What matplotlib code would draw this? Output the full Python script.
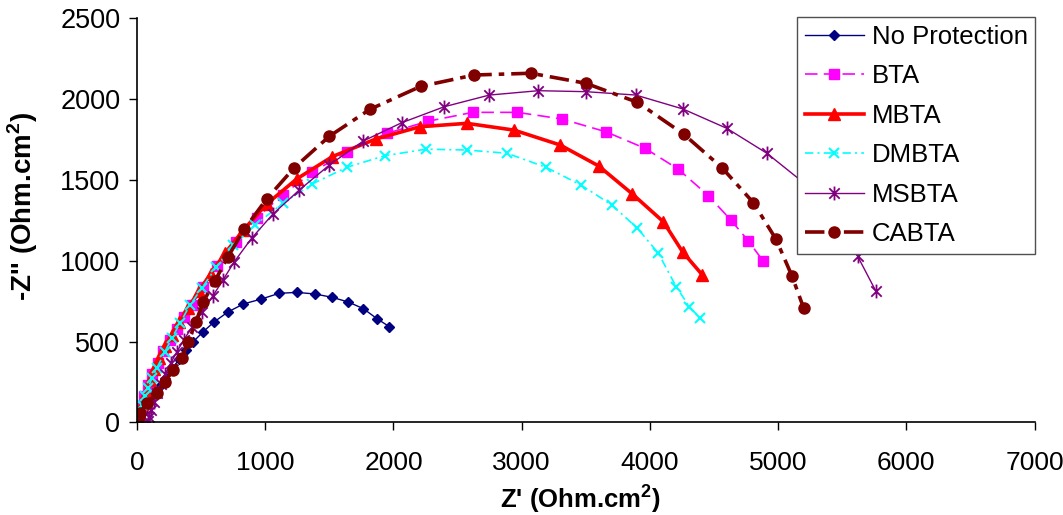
import numpy as np
import matplotlib
matplotlib.use("Agg")
import matplotlib.pyplot as plt
from matplotlib.path import Path

plt.rcParams['font.family'] = ['Liberation Sans', 'DejaVu Sans']
plt.rcParams['mathtext.fontset'] = 'custom'
plt.rcParams['mathtext.bf'] = 'Liberation Sans:bold'
plt.rcParams['mathtext.rm'] = 'Liberation Sans'
plt.rcParams['lines.scale_dashes'] = False

# Z' and -Z'' readings (Ohm.cm2) for each inhibitor
no_prot_x = [5, 20, 45, 80, 120, 165, 215, 270, 330, 385, 439, 517, 601, 710, 829, 970, 1108, 1246, 1389, 1524, 1649, 1766, 1875, 1968]
no_prot_y = [5, 30, 65, 110, 160, 215, 270, 330, 390, 445, 499, 561, 621, 683, 732, 763, 798, 804, 794, 773, 744, 703, 639, 592]

bta_x = [10, 30, 55, 85, 120, 160, 205, 255, 310, 365, 427, 517, 626, 770, 934, 1136, 1367, 1640, 1948, 2270, 2618, 2966, 3313, 3656, 3963, 4222, 4456, 4631, 4768, 4881]
bta_y = [30, 90, 160, 230, 300, 370, 440, 510, 580, 650, 726, 839, 969, 1114, 1266, 1407, 1547, 1675, 1788, 1863, 1918, 1918, 1877, 1798, 1695, 1566, 1402, 1252, 1122, 1000]

mbta_x = [15, 40, 70, 100, 135, 175, 220, 270, 330, 400, 480, 575, 690, 830, 1010, 1246, 1523, 1862, 2207, 2572, 2941, 3300, 3601, 3863, 4105, 4257, 4410]
mbta_y = [50, 115, 190, 260, 330, 400, 470, 540, 620, 710, 810, 920, 1050, 1190, 1350, 1506, 1644, 1753, 1829, 1850, 1808, 1716, 1586, 1413, 1241, 1052, 911]

dmbta_x = [5, 20, 40, 62, 88, 115, 154, 218, 271, 335, 413, 505, 616, 751, 920, 1137, 1367, 1636, 1934, 2253, 2572, 2884, 3190, 3463, 3703, 3903, 4066, 4205, 4308, 4392]
dmbta_y = [15, 60, 110, 160, 215, 272, 334, 437, 520, 613, 726, 829, 959, 1097, 1221, 1355, 1475, 1578, 1650, 1690, 1685, 1665, 1578, 1468, 1345, 1200, 1046, 839, 715, 644]

msbta_x = [85, 95, 110, 130, 155, 185, 220, 262, 310, 365, 430, 505, 590, 670, 759, 894, 1058, 1265, 1500, 1765, 2065, 2397, 2748, 3130, 3500, 3890, 4257, 4600, 4912, 5250, 5480, 5619, 5762]
msbta_y = [5, 35, 75, 125, 180, 240, 300, 365, 435, 510, 590, 680, 780, 880, 994, 1139, 1287, 1437, 1592, 1741, 1854, 1953, 2025, 2052, 2046, 2025, 1939, 1819, 1665, 1450, 1250, 1029, 812]

cabta_x = [0, 5, 12, 23, 76, 154, 218, 284, 348, 400, 460, 517, 608, 707, 836, 1011, 1227, 1500, 1817, 2213, 2629, 3071, 3500, 3903, 4262, 4561, 4807, 4984, 5107, 5198]
cabta_y = [5, 20, 40, 56, 118, 179, 251, 324, 396, 499, 623, 746, 876, 1021, 1194, 1382, 1576, 1770, 1937, 2079, 2149, 2160, 2098, 1980, 1784, 1576, 1359, 1132, 907, 709]

labels = ['No Protection', 'BTA', 'MBTA', 'DMBTA', 'MSBTA', 'CABTA']

# excel style star: an x with a vertical bar
star = Path([(0, -1), (0, 1), (-0.75, -0.75), (0.75, 0.75), (-0.75, 0.75), (0.75, -0.75)],
            [Path.MOVETO, Path.LINETO, Path.MOVETO, Path.LINETO, Path.MOVETO, Path.LINETO])

fig = plt.figure(figsize=(10.63, 5.15), dpi=100)
ax = fig.add_axes([137/1063, 1 - 422.3/515, 897.6/1063, 404/515])

ax.plot(no_prot_x, no_prot_y, color='#000080', lw=1.0, marker='D', ms=5.5, label=labels[0])
ax.plot(bta_x, bta_y, color='#FF00FF', lw=1.2, ls=(0, (9, 4.5)), marker='s', ms=6.5, label=labels[1])
ax.plot(mbta_x, mbta_y, color='#FF0000', lw=2.6, marker='^', ms=8, label=labels[2])
ax.plot(dmbta_x, dmbta_y, color='#00FFFF', lw=1.2, ls=(0, (6, 3, 1.5, 3)), marker='x', ms=7.5, mew=1.5, label=labels[3])
ax.plot(msbta_x, msbta_y, color='#800080', lw=1.0, marker=star, ms=10, mew=1.3, mec='#800080', label=labels[4])
ax.plot(cabta_x, cabta_y, color='#800000', lw=2.6, ls=(0, (14, 5, 4, 5)), marker='o', ms=8, label=labels[5])

ax.set_xlim(0, 7000)
ax.set_ylim(0, 2500)
ax.set_xticks(np.arange(0, 7001, 1000))
ax.set_yticks(np.arange(0, 2501, 500))
ax.spines['top'].set_visible(False)
ax.spines['right'].set_visible(False)
ax.spines['left'].set_linewidth(1.2)
ax.spines['bottom'].set_linewidth(1.2)
ax.tick_params(axis='x', direction='out', length=6, width=1, pad=15, labelsize=19)
ax.tick_params(axis='y', direction='out', length=6, width=1, pad=6, labelsize=19.5)

ax.set_xlabel("Z' (Ohm.cm$^{\\mathbf{2}}$)", fontsize=18.5, fontweight='bold')
ax.set_ylabel("-Z'' (Ohm.cm$^{\\mathbf{2}}$)", fontsize=20, fontweight='bold')
ax.xaxis.set_label_coords(0.4935, -0.148)
ax.yaxis.set_label_coords(-0.108, 0.534)

leg = ax.legend(loc='upper left', bbox_to_anchor=(797/1063, 1 - 17.3/515), bbox_transform=fig.transFigure,
                borderaxespad=0, fontsize=18.5, numpoints=1, handlelength=2.3, handletextpad=0.3,
                labelspacing=0.6, borderpad=0.3, fancybox=False, framealpha=1)
leg.get_frame().set_edgecolor('#505050')
leg.get_frame().set_linewidth(1.0)

fig.savefig('out.png', dpi=100)
